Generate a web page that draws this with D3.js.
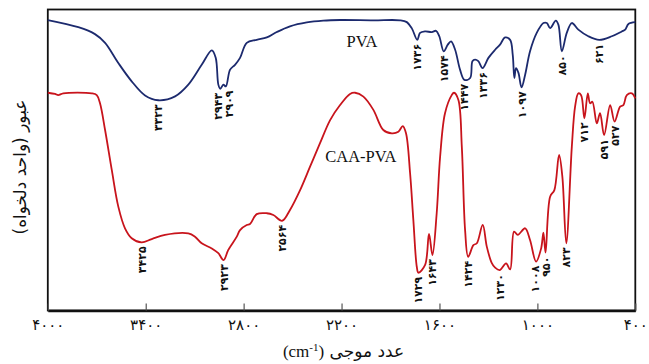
<!DOCTYPE html>
<html><head><meta charset="utf-8">
<script src="https://cdn.jsdelivr.net/npm/d3@7"></script>
<style>
html,body{margin:0;padding:0;background:#fff;}
svg{display:block;}
</style></head>
<body>
<svg id="chart" width="649" height="364"></svg>
<script>
// ---- data ----
const tickValues = [4000, 3400, 2800, 2200, 1600, 1000, 400];
const tickLabels = ["۴۰۰۰", "۳۴۰۰", "۲۸۰۰", "۲۲۰۰", "۱۶۰۰", "۱۰۰۰", "۴۰۰"];

const pvaWn = [4000,3813,3711,3649,3568,3486,3404,3323,3220,3139,3057,2995,2971,2955,2943,2924,2909,2883,2853,2822,2781,2720,2658,2597,2516,2413,2312,2209,2005,1841,1800,1770,1736,1719,1688,1647,1621,1601,1574,1549,1529,1504,1474,1447,1412,1398,1382,1362,1336,1300,1259,1229,1198,1167,1151,1141,1131,1116,1097,1075,1045,1004,963,942,922,887,871,850,820,789,749,688,621,544,483,462,442,400];
const pvaT = [96.5,94.1,91.8,88.9,82.2,76.1,71.4,69.8,71.1,75.0,81.6,86.4,83.9,75.0,73.6,75.0,74.4,80.0,81.6,83.9,88.9,89.9,90.7,92.5,94.4,95.7,96.3,96.5,96.4,96.4,95.8,93.8,89.9,92.2,92.7,92.5,92.9,91.1,86.1,88.3,89.4,86.6,80.0,76.6,77.2,82.8,83.3,82.8,80.5,83.9,86.6,88.3,90.7,89.9,84.9,77.2,80.5,78.9,74.1,78.3,86.1,92.2,95.5,95.5,93.8,96.3,94.9,86.1,92.2,95.5,93.3,91.1,89.9,91.1,92.7,93.3,95.2,95.8];

const caaWn = [4000,3956,3936,3905,3731,3700,3680,3649,3608,3568,3527,3486,3425,3363,3282,3139,3098,3057,2995,2955,2923,2894,2842,2822,2781,2761,2720,2658,2618,2564,2516,2454,2393,2332,2270,2209,2148,2117,2066,2005,1944,1892,1852,1825,1805,1780,1760,1739,1729,1688,1664,1643,1617,1596,1566,1525,1511,1484,1463,1443,1424,1392,1371,1335,1310,1280,1259,1230,1192,1167,1143,1120,1075,1045,1008,977,963,950,922,896,867,847,823,789,769,749,732,712,691,677,663,636,616,591,554,527,493,473,452,421,400];
const caaT = [72.3,71.9,71.5,72.1,72.1,71.5,68.8,59.9,46.6,34.4,27.2,23.9,22.5,23.6,25.0,25.5,24.4,22.2,20.5,18.9,16.6,20.0,24.4,26.6,28.3,28.6,31.9,32.2,31.6,29.7,33.3,39.9,47.7,55.5,63.2,68.2,71.9,72.3,71.0,66.6,59.9,58.8,59.3,61.2,58.8,45.5,29.9,14.4,12.4,15.0,25.3,18.3,32.2,51.0,65.5,71.5,72.3,69.9,54.3,26.6,17.7,21.6,22.2,28.3,21.1,15.7,14.1,13.3,15.5,13.5,26.1,25.0,27.2,23.3,16.1,20.5,25.7,19.1,37.7,39.9,51.6,44.4,22.2,54.3,67.7,72.1,71.5,63.8,72.1,68.8,69.3,62.1,65.5,58.2,68.2,62.7,67.7,68.2,71.5,72.1,70.4];

const pvaPeaks = [3323, 2943, 2909, 1736, 1574, 1447, 1336, 1097, 850, 621];
const pvaPeakLabels = ["۳۳۲۳", "۲۹۴۳", "۲۹۰۹", "۱۷۳۶", "۱۵۷۴", "۱۴۴۷", "۱۳۳۶", "۱۰۹۷", "۸۵۰", "۶۲۱"];
const caaPeaks = [3425, 2923, 2564, 1729, 1643, 1424, 1230, 1008, 950, 823, 712, 591, 527];
const caaPeakLabels = ["۳۴۲۵", "۲۹۲۳", "۲۵۶۴", "۱۷۲۹", "۱۶۴۳", "۱۴۲۴", "۱۲۳۰", "۱۰۰۸", "۹۵۰", "۸۲۳", "۷۱۲", "۵۹۱", "۵۲۷"];

const seriesNames = ["PVA", "CAA-PVA"];
const xTitleArabic = "عدد موجی";
const xTitleUnit = "cm";
const xTitleSup = "-1";
const yTitle = "عبور (واحد دلخواه)";

// ---- layout ----
const svg = d3.select("#chart");
const L = 47.8, R = 635.3, T = 9.5, B = 310.5;
const x = d3.scaleLinear().domain([4000, 400]).range([L, R]);
const y = d3.scaleLinear().domain([0, 100]).range([B - 0.5, T]);

const navy = "#1c2a6e", red = "#c8141c";
const arabicFont = "'DejaVu Sans', sans-serif";
const serifFont = "'Liberation Serif', 'Times New Roman', serif";

// frame
svg.append("rect").attr("x", L).attr("y", T).attr("width", R - L).attr("height", B - T)
  .attr("fill", "none").attr("stroke", "#111").attr("stroke-width", 1.8);

// axis
const axis = d3.axisBottom(x).tickValues(tickValues)
  .tickFormat((d, i) => tickLabels[i]).tickSize(-7).tickSizeOuter(0).tickPadding(9);
const gx = svg.append("g").attr("transform", `translate(0,${B})`).call(axis);
gx.select(".domain").attr("stroke", "#111").attr("stroke-width", 2.6);
gx.selectAll(".tick line").attr("stroke", "#555").attr("stroke-width", 1.2);
gx.selectAll(".tick text").attr("font-family", arabicFont).attr("font-size", 15).attr("fill", "#111");

// lines
const line = d3.line().x(d => x(d[0])).y(d => y(d[1])).curve(d3.curveCatmullRom.alpha(0.5));
const pvaData = d3.zip(pvaWn, pvaT);
const caaData = d3.zip(caaWn, caaT);
svg.append("path").datum(pvaData).attr("d", line).attr("fill", "none")
  .attr("stroke", navy).attr("stroke-width", 1.8).attr("stroke-linejoin", "round");
svg.append("path").datum(caaData).attr("d", line).attr("fill", "none")
  .attr("stroke", red).attr("stroke-width", 1.8).attr("stroke-linejoin", "round");

// peak labels
function peakLabels(peaks, labels, data) {
  const items = peaks.map((wn, i) => {
    const p = data.reduce((a, b) => Math.abs(b[0] - wn) < Math.abs(a[0] - wn) ? b : a);
    return { cx: x(wn), top: y(p[1]) + 4, text: labels[i] };
  });
  // simple spreading of close neighbours
  for (let k = 0; k < 3; k++) {
    items.sort((a, b) => a.cx - b.cx);
    for (let i = 1; i < items.length; i++) {
      const gap = items[i].cx - items[i - 1].cx;
      const vOverlap = Math.abs(items[i].top - items[i - 1].top) < 25;
      if (gap < 11 && vOverlap) {
        const push = (11 - gap) / 2;
        items[i - 1].cx -= push; items[i].cx += push;
      }
    }
  }
  svg.append("g").selectAll("text").data(items).join("text")
    .attr("transform", d => `translate(${d.cx},${d.top}) rotate(-90)`)
    .attr("text-anchor", "end").attr("dy", "0.36em")
    .attr("font-family", arabicFont).attr("font-size", 11).attr("font-weight", "bold")
    .attr("fill", "#111").text(d => d.text);
}
peakLabels(pvaPeaks, pvaPeakLabels, pvaData);
peakLabels(caaPeaks, caaPeakLabels, caaData);

// series names
svg.append("text").attr("x", x(2075)).attr("y", 46.5).attr("text-anchor", "middle")
  .attr("font-family", serifFont).attr("font-size", 16.5).attr("fill", "#111").text(seriesNames[0]);
svg.append("text").attr("x", x(2300)).attr("y", 161.5).attr("text-anchor", "start")
  .attr("font-family", serifFont).attr("font-size", 16.5).attr("fill", "#111").text(seriesNames[1]);

// x title: "(cm-1) عدد موجی"
const xt = svg.append("text").attr("x", (L + R) / 2 + 2).attr("y", 357).attr("text-anchor", "middle")
  .attr("font-size", 17).attr("fill", "#111");
xt.append("tspan").attr("font-family", serifFont).text("(" + xTitleUnit);
xt.append("tspan").attr("font-family", serifFont).attr("font-size", 11).attr("dy", -6).text(xTitleSup);
xt.append("tspan").attr("font-family", serifFont).attr("dy", 6).text(")");
xt.append("tspan").attr("font-family", arabicFont).text(" " + xTitleArabic);

// y title
svg.append("text").attr("transform", `translate(20,167) rotate(-90)`)
  .attr("text-anchor", "middle").attr("dy", "0.35em")
  .attr("font-family", arabicFont).attr("font-size", 17).attr("fill", "#111")
  .attr("direction", "rtl").text(yTitle);
</script>
</body></html>
